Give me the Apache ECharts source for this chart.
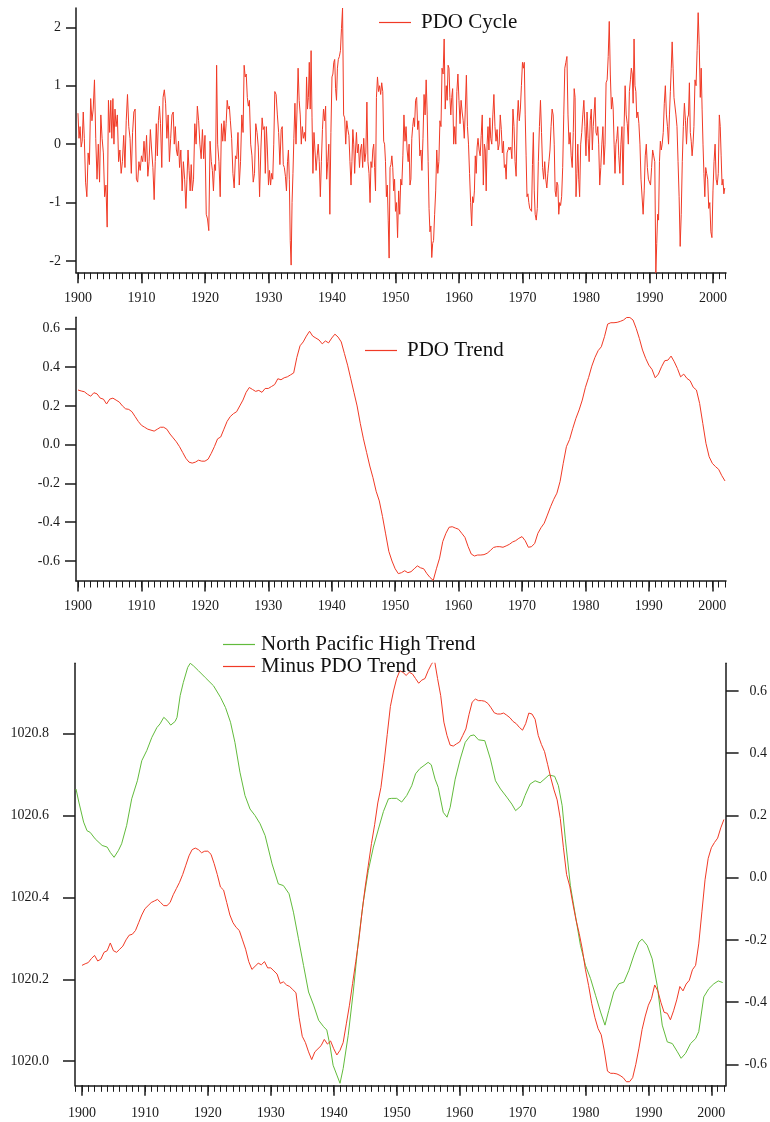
<!DOCTYPE html>
<html>
<head>
<meta charset="utf-8">
<title>PDO Cycle / Trend</title>
<script src="https://cdn.jsdelivr.net/npm/echarts@6/dist/echarts.min.js"></script>
<style>
  html, body { margin: 0; padding: 0; background: #fff; }
  #main { width: 770px; height: 1122px; }
</style>
</head>
<body>
<div id="main"></div>
<script>
  // PDO cycle: one row per year from 1900, values spread evenly inside the year
  const cycleStartYear = 1900;
  const pdoCycle = [
    [0.53, 0.1, 0.3, -0.05, 0.05, 0.55],            // 1900
    [0.1, -0.65, -0.9, -0.15, -0.35],
    [0.78, 0.4, 0.6, 1.1, 0.1],
    [-0.6, 0.0, -0.65, 0.5, 0.1],
    [-0.15, -0.9, -0.7, -1.42, 0.75],
    [0.2, 0.75, 0.1, 0.78, 0.0, 0.6],
    [0.3, 0.5, -0.3, -0.1, -0.5],
    [-0.3, 0.15, -0.4, 0.4, 0.85],
    [0.3, 0.1, -0.5, 0.2, 0.55],
    [0.6, -0.6, -0.65, -0.3, -0.45],
    [-0.2, -0.3, 0.05, -0.3, 0.15],                // 1910
    [-0.55, -0.3, 0.25, -0.1, -0.4],
    [-0.95, -0.3, 0.35, -0.2, 0.4, 0.65],
    [0.35, -0.4, 0.8, 0.93, 0.7],
    [0.1, 0.5, -0.3, 0.1, 0.5],
    [0.55, 0.0, 0.3, -0.1, -0.2, 0.05],
    [-0.4, -0.1, -0.8, -0.3, -0.6],
    [-1.1, -0.6, -0.1, -0.45, -0.8, -0.35],
    [-0.8, -0.6, 0.35, 0.0, 0.65],
    [0.4, 0.0, -0.25, 0.25, -0.25],
    [0.15, -1.2, -1.28, -1.48, 0.05],              // 1920
    [-0.3, -0.45, -0.8, -0.35, -0.45, 1.35],
    [0.0, -0.3, -0.9, 0.35, 0.05],
    [0.4, 0.05, 0.35, 0.75, 0.6, 0.65],
    [0.4, 0.1, -0.5, -0.75, -0.2],
    [-0.25, 0.2, -0.7, -0.3, 0.5],
    [0.2, 1.35, 1.15, 1.2, 0.8, 0.65],
    [0.75, 0.0, -0.2, -0.65, -0.5],
    [0.35, 0.2, -0.05, -0.9, -0.1],
    [0.45, 0.25, 0.3, -0.5, 0.3, -0.1],
    [-0.7, -0.45, -0.7, -0.5, -0.6, 0.0],          // 1930
    [0.9, 0.85, 0.5, 0.2, -0.35],
    [0.25, 0.3, -0.35, -0.4, -0.55, -0.8],
    [-0.3, -0.1, -0.6, -1.65, -2.07, -1.0, -0.5],
    [0.1, 0.7, 0.0, 0.6, 1.3, 0.75],
    [0.5, 0.0, 0.3, 0.1, 0.2, 0.05],
    [1.15, 0.6, 0.8, 1.4, 0.6, 1.6, 0.45],
    [-0.5, 0.2, 0.2, -0.45, -0.2, 0.0],
    [-0.3, -0.9, -0.3, 0.25, 0.6, 0.4],
    [0.65, -0.6, -0.3, 0.0, -1.2, 0.2],
    [1.15, 1.2, 1.4, 1.45, 0.95, 0.75, 1.3],       // 1940
    [1.45, 1.5, 1.6, 1.98, 2.33, 0.5],
    [0.45, 0.0, 0.4, 0.25, 0.15, -0.3],
    [-0.7, -0.3, 0.25, 0.0, -0.5, -0.1, 0.2],
    [-0.15, 0.0, -0.4, -0.1, 0.0, -0.4],
    [0.1, -0.3, -0.15, 0.72, -0.3, -0.5],
    [-1.0, -0.3, -0.4, -0.1, 0.0, -0.4, -0.8],
    [0.8, 1.15, 0.9, 1.0, 0.85, 1.05],
    [0.9, 0.05, 0.0, -0.3, -0.9, -0.7, -1.3],
    [-1.95, -0.4, -0.35, -0.2, -0.4, -0.8, -0.6],
    [-1.15, -1.0, -1.6, -0.8, -1.2, -0.6],         // 1950
    [-0.7, -0.2, 0.5, 0.05, 0.3, -0.1],
    [-0.3, 0.0, -0.7, -0.6, 0.1, 0.3, 0.45],
    [0.3, 0.75, 0.8, 0.25, 0.4, -0.2],
    [-0.1, -0.45, 0.1, 0.85, 0.5, 1.1],
    [0.5, -0.3, -1.1, -1.5, -1.4, -1.94, -1.7],
    [-1.65, -1.2, -0.8, -0.1, -0.5, -0.3],
    [0.4, 0.3, 1.3, 1.2, 1.8, 0.6],
    [1.0, 0.75, 1.35, 1.3, 0.8, 0.5, 0.8],
    [0.95, 0.0, 0.3, 0.0, 0.9, 1.2],
    [0.75, 0.35, 0.75, 0.55, 0.4, 0.1],            // 1960
    [0.6, 1.18, 0.3, 0.0, -0.5, -1.0],
    [-1.4, -0.9, -1.0, -0.8, -0.2, -0.5, -0.05],
    [0.1, -0.1, -0.2, 0.15, 0.5, -0.7],
    [0.0, -0.1, -0.8, 0.0, 0.3, -0.1, 0.45],
    [0.1, 0.0, 0.5, 0.85, 0.3, 0.05],
    [0.25, -0.1, 0.0, 0.5, 0.25, -0.15],
    [0.05, -0.4, -0.35, -0.6, -0.15, -0.1, -0.05],
    [-0.1, -0.05, -0.25, 0.6, 0.3, -0.3],
    [-0.55, 0.4, 0.75, 0.4, 0.6, 1.0],
    [1.4, 1.3, 1.4, 0.5, -0.2, -0.9, -0.85],       // 1970
    [-1.0, -1.1, -1.1, -1.15, -0.35, 0.2, -0.8],
    [-1.2, -1.3, -1.1, -0.3, 0.3, 0.75],
    [0.2, -0.4, -0.6, -0.3, -0.6, -0.75],
    [-0.5, -0.3, -0.1, 0.3, 0.6, 0.5],
    [0.0, -0.8, -0.9, -0.65, -0.7, -1.2, -1.0],
    [-1.05, -0.9, -0.4, 0.5, 1.3, 1.4],
    [1.5, 0.5, 0.0, 0.2, -0.2, -0.4],
    [0.2, 0.95, 0.8, -0.9, -0.5, 0.0, -0.6],
    [-0.9, 0.0, 0.2, 0.5, 0.75, 0.3],
    [-0.2, 0.55, 0.1, -0.3, 0.4, 0.6],             // 1980
    [-0.1, 0.3, 0.55, 0.8, 0.2, 0.15, 0.3],
    [0.0, -0.7, -0.4, 0.0, 0.3, -0.35],
    [0.0, 1.05, 1.1, 1.5, 2.1, 1.2],
    [0.6, 0.8, 0.6, 0.0, -0.5, 0.0, 0.1],
    [0.3, -0.2, -0.5, 0.0, 0.3, -0.7],
    [0.3, 1.0, 0.5, 0.35, 0.0, 0.9],
    [1.1, 1.3, 1.2, 0.7, 1.8, 1.0, 0.9],
    [0.45, 0.55, 0.35, 0.0, -0.6, -0.6],
    [-1.2, -0.8, -0.2, 0.0, -0.4, -0.6],
    [-0.6, -0.7, -0.4, -0.1, -0.2, -0.3],          // 1990
    [-2.2, -1.7, -1.2, -1.3, -0.3, 0.05, -0.1],
    [0.0, 0.2, 0.7, 1.0, 0.5, 0.3],
    [0.0, 0.5, 0.9, 1.3, 1.75, 1.3, 0.8],
    [0.8, 0.5, 0.3, -0.3, -0.9, -1.75],
    [-1.2, -0.3, 0.3, 0.7, 0.4, 0.0],
    [0.45, 0.5, 1.05, 0.2, 0.05, -0.2, 0.0],
    [0.3, 1.1, 1.0, 1.6, 2.25, 1.7],
    [0.8, 1.3, 0.6, 0.0, -0.5, -0.9, -0.4],
    [-0.5, -0.6, -1.1, -1.0, -1.5, -1.6],
    [-0.8, -0.3, 0.0, -0.6, -0.7, -0.5],           // 2000
    [0.5, 0.3, -0.2, -0.7, -0.6, -0.85, -0.75]
  ];

  // PDO trend, every half year from 1900.0 to 2002.0
  const trendStartYear = 1900;
  const trendStep = 0.5;
  const pdoTrend = [
    0.282, 0.277, 0.273, 0.26, 0.25, 0.268, 0.262, 0.24, 0.235, 0.21,        // 1900-1904.5
    0.235, 0.24, 0.23, 0.22, 0.2, 0.185, 0.182, 0.17, 0.145, 0.12,           // 1905-1909.5
    0.1, 0.09, 0.08, 0.075, 0.07, 0.08, 0.09, 0.09, 0.08, 0.055,             // 1910-1914.5
    0.035, 0.015, -0.01, -0.04, -0.07, -0.09, -0.095, -0.09, -0.08, -0.085,  // 1915-1919.5
    -0.085, -0.075, -0.045, -0.01, 0.03, 0.04, 0.08, 0.12, 0.145, 0.16,      // 1920-1924.5
    0.17, 0.2, 0.23, 0.27, 0.295, 0.285, 0.275, 0.28, 0.27, 0.29,            // 1925-1929.5
    0.29, 0.3, 0.31, 0.34, 0.335, 0.345, 0.35, 0.36, 0.37, 0.45,             // 1930-1934.5
    0.51, 0.53, 0.56, 0.585, 0.56, 0.55, 0.54, 0.52, 0.535, 0.525,           // 1935-1939.5
    0.55, 0.57, 0.555, 0.53, 0.47, 0.41, 0.34, 0.27, 0.2, 0.11,              // 1940-1944.5
    0.03, -0.04, -0.11, -0.17, -0.24, -0.29, -0.37, -0.46, -0.55, -0.6,      // 1945-1949.5
    -0.64, -0.665, -0.66, -0.65, -0.66, -0.655, -0.64, -0.625, -0.635, -0.64, // 1950-1954.5
    -0.665, -0.685, -0.7, -0.64, -0.585, -0.5, -0.457, -0.426, -0.423, -0.43, // 1955-1959.5
    -0.436, -0.457, -0.478, -0.525, -0.564, -0.574, -0.569, -0.569, -0.567, -0.56, // 1960-1964.5
    -0.546, -0.53, -0.526, -0.526, -0.529, -0.522, -0.514, -0.502, -0.495, -0.483, // 1965-1969.5
    -0.474, -0.495, -0.529, -0.526, -0.509, -0.457, -0.428, -0.405, -0.363, -0.32, // 1970-1974.5
    -0.282, -0.25, -0.19, -0.096, -0.01, 0.027, 0.084, 0.136, 0.179, 0.23,   // 1975-1979.5
    0.296, 0.347, 0.405, 0.45, 0.485, 0.505, 0.557, 0.622, 0.629, 0.629,     // 1980-1984.5
    0.631, 0.636, 0.643, 0.656, 0.656, 0.643, 0.6, 0.548, 0.488, 0.445,      // 1985-1989.5
    0.41, 0.388, 0.345, 0.364, 0.402, 0.433, 0.436, 0.457, 0.428, 0.393,     // 1990-1994.5
    0.35, 0.364, 0.342, 0.33, 0.296, 0.282, 0.213, 0.11, 0.007, -0.062,      // 1995-1999.5
    -0.096, -0.113, -0.127, -0.16, -0.187                                    // 2000-2002
  ];

  // North Pacific High trend (hPa)
  const nphYears = [
    1899.05, 1899.5, 1900.26, 1900.8, 1901.3, 1902.1, 1903.2, 1904.0, 1904.5, 1905.1,
    1905.8, 1906.3, 1907.1, 1907.9, 1908.8, 1909.5, 1910.3, 1911.1, 1911.9, 1912.4,
    1913.0, 1913.5, 1914.1, 1914.8, 1915.1, 1915.6, 1916.1, 1916.8, 1917.2, 1917.7,
    1918.5, 1919.6, 1920.9, 1922.0, 1922.8, 1923.6, 1924.3, 1925.1, 1925.9, 1926.7,
    1927.5, 1928.3, 1929.1, 1930.2, 1931.2, 1932.0, 1932.9, 1933.6, 1934.4, 1935.2,
    1936.0, 1936.8, 1937.6, 1938.4, 1938.9, 1939.4, 1939.9, 1940.5, 1941.0, 1941.5,
    1942.3, 1943.1, 1943.9, 1944.7, 1945.5, 1946.3, 1947.1, 1947.9, 1948.7, 1949.2,
    1950.0, 1950.8, 1951.6, 1952.4, 1953.0, 1953.7, 1954.5, 1955.0, 1955.5, 1956.1,
    1956.6, 1957.4, 1958.0, 1958.5, 1959.3, 1960.1, 1960.9, 1961.7, 1962.3, 1963.0,
    1964.0, 1964.9, 1965.7, 1966.5, 1967.5, 1968.3, 1968.9, 1969.8, 1970.4, 1971.2,
    1972.0, 1972.8, 1973.4, 1974.2, 1975.1, 1975.7, 1976.3, 1976.8, 1977.6, 1978.4,
    1979.2, 1980.0, 1980.8, 1981.6, 1982.4, 1983.1, 1983.7, 1984.5, 1985.3, 1986.1,
    1986.9, 1987.7, 1988.5, 1989.0, 1989.8, 1990.6, 1991.4, 1992.2, 1993.0, 1993.8,
    1994.6, 1995.2, 1995.9, 1996.7, 1997.5, 1998.0, 1998.8, 1999.6, 2000.4, 2001.1,
    2001.8
  ];
  const nphValues = [
    1020.665, 1020.633, 1020.584, 1020.563, 1020.559, 1020.543, 1020.527, 1020.523, 1020.51, 1020.498,
    1020.515, 1020.531, 1020.576, 1020.641, 1020.685, 1020.734, 1020.759, 1020.791, 1020.815, 1020.824,
    1020.84, 1020.833, 1020.821, 1020.83, 1020.84, 1020.893, 1020.925, 1020.962, 1020.972, 1020.966,
    1020.954, 1020.937, 1020.917, 1020.889, 1020.864, 1020.828, 1020.779, 1020.706, 1020.649, 1020.616,
    1020.6, 1020.58, 1020.551, 1020.482, 1020.433, 1020.429, 1020.409, 1020.364, 1020.299, 1020.234,
    1020.169, 1020.137, 1020.1, 1020.084, 1020.076, 1020.039, 1019.99, 1019.966, 1019.946, 1019.982,
    1020.063, 1020.169, 1020.291, 1020.389, 1020.466, 1020.523, 1020.567, 1020.61, 1020.641, 1020.642,
    1020.642, 1020.633, 1020.649, 1020.673, 1020.702, 1020.715, 1020.724, 1020.73, 1020.724, 1020.689,
    1020.669, 1020.608, 1020.596, 1020.62, 1020.689, 1020.738, 1020.779, 1020.795, 1020.797, 1020.785,
    1020.783, 1020.738, 1020.685, 1020.665, 1020.645, 1020.628, 1020.612, 1020.624, 1020.649, 1020.677,
    1020.685, 1020.68, 1020.688, 1020.699, 1020.696, 1020.673, 1020.624, 1020.543, 1020.429, 1020.356,
    1020.283, 1020.234, 1020.202, 1020.161, 1020.12, 1020.088, 1020.124, 1020.169, 1020.189, 1020.193,
    1020.222, 1020.259, 1020.291, 1020.298, 1020.283, 1020.25, 1020.185, 1020.088, 1020.047, 1020.043,
    1020.023, 1020.007, 1020.019, 1020.043, 1020.055, 1020.072, 1020.157, 1020.177, 1020.189, 1020.196,
    1020.192
  ];

  // tick marks and labels
  const decadeTicks = [1900, 1910, 1920, 1930, 1940, 1950, 1960, 1970, 1980, 1990, 2000];
  const cycleTicks = [-2, -1, 0, 1, 2];
  const trendTicks = [-0.6, -0.4, -0.2, 0, 0.2, 0.4, 0.6];
  const nphTicks = [1020.0, 1020.2, 1020.4, 1020.6, 1020.8];
  const minusTrendTicks = [-0.6, -0.4, -0.2, 0, 0.2, 0.4, 0.6];

  const RED = '#f03a26';
  const GREEN = '#62bb3c';
  const INK = '#1a1a1a';
  const FONT = 'Liberation Serif';

  /**
   * 每年一个刻度
   */
  function yearList(from, to) {
    let out = [];
    for (let y = from; y <= to; y++) out.push(y);
    return out;
  }

  /**
   * PDO cycle rows -> [year, value]
   */
  function cycleData() {
    let out = [];
    pdoCycle.forEach((row, k) => {
      row.forEach((v, i) => out.push([cycleStartYear + k + i / row.length, v]));
    });
    return out;
  }

  function trendData(sign) {
    // the lower panel plots the same trend with its sign flipped ("Minus PDO Trend")
    return pdoTrend.map((v, i) => [trendStartYear + i * trendStep, sign * v]);
  }

  function nphData() {
    return nphYears.map((y, i) => [y, nphValues[i]]);
  }

  /**
   * 两条x轴：一条画十年刻度和标签，另一条只画每年的小刻度
   */
  function xAxes(gridIndex, min, max, labelMargin, minorTicks) {
    return [
      {
        type: 'value', gridIndex: gridIndex, min: min, max: max, position: 'bottom',
        axisLine: { show: true, onZero: false, lineStyle: { color: INK, width: 1.5 } },
        axisTick: { show: true, customValues: decadeTicks, length: 10.5, lineStyle: { color: INK, width: 1.5 } },
        axisLabel: {
          show: true, customValues: decadeTicks, margin: labelMargin,
          fontFamily: FONT, fontSize: 14, color: INK,
          formatter: (v) => String(Math.round(v))
        },
        splitLine: { show: false }
      },
      {
        type: 'value', gridIndex: gridIndex, min: min, max: max, position: 'bottom',
        axisLine: { show: false, onZero: false },
        axisTick: { show: true, customValues: minorTicks, length: 6.5, lineStyle: { color: INK, width: 1 } },
        axisLabel: { show: false },
        splitLine: { show: false }
      }
    ];
  }

  function yAxis(gridIndex, min, max, ticks, opts) {
    return {
      type: 'value', gridIndex: gridIndex, min: min, max: max,
      position: opts.position || 'left',
      axisLine: { show: true, onZero: false, lineStyle: { color: INK, width: 1.5 } },
      axisTick: { show: true, customValues: ticks, length: opts.tickLen, lineStyle: { color: INK, width: 1.5 } },
      axisLabel: {
        show: true, customValues: ticks, margin: opts.margin, align: 'right',
        fontFamily: FONT, fontSize: 14, color: INK,
        formatter: (v) => v.toFixed(opts.digits)
      },
      splitLine: { show: false }
    };
  }

  function lineSeries(name, xi, yi, data, color) {
    return {
      name: name, type: 'line', xAxisIndex: xi, yAxisIndex: yi,
      data: data, symbol: 'none', showSymbol: false, clip: true,
      lineStyle: { color: color, width: 1 },
      itemStyle: { color: color }
    };
  }

  // 图例只画一条细线
  function legend(names, left, top, textGap) {
    return {
      data: names, left: left, top: top, orient: 'vertical',
      icon: 'rect', itemWidth: 32, itemHeight: 1.2, itemGap: 1, padding: 0,
      textStyle: { fontFamily: FONT, fontSize: 21, color: '#111', padding: [0, 0, 0, textGap] }
    };
  }

  var chart = echarts.init(document.getElementById('main'), null, { renderer: 'canvas' });

  var option = {
    animation: false,
    backgroundColor: '#fff',
    grid: [
      { left: 76, top: 8, width: 650, height: 264.7 },
      { left: 76, top: 317.3, width: 650, height: 263.7 },
      { left: 75, top: 663.3, width: 651.7, height: 422 }
    ],
    xAxis: []
      .concat(xAxes(0, 1899.69, 2002.05, 19, yearList(1900, 2002)))
      .concat(xAxes(1, 1899.68, 2002.16, 18, yearList(1900, 2002)))
      .concat(xAxes(2, 1898.89, 2002.33, 21, yearList(1899, 2002))),
    yAxis: [
      yAxis(0, -2.2, 2.33, cycleTicks, { tickLen: 10, margin: 15, digits: 0 }),
      yAxis(1, -0.703, 0.657, trendTicks, { tickLen: 11, margin: 16, digits: 1 }),
      yAxis(2, 1019.941, 1020.972, nphTicks, { tickLen: 12, margin: 26, digits: 1 }),
      yAxis(2, -0.6675, 0.689, minusTrendTicks, { tickLen: 12.6, margin: 41, digits: 1, position: 'right' })
    ],
    legend: [
      legend(['PDO Cycle'], 379, 12, 5),
      legend(['PDO Trend'], 365, 340, 5),
      legend(['North Pacific High Trend', 'Minus PDO Trend'], 223, 634, 1)
    ],
    series: [
      lineSeries('PDO Cycle', 0, 0, cycleData(), RED),
      lineSeries('PDO Trend', 2, 1, trendData(1), RED),
      lineSeries('North Pacific High Trend', 4, 2, nphData(), GREEN),
      lineSeries('Minus PDO Trend', 4, 3, trendData(-1), RED)
    ]
  };

  chart.setOption(option);
</script>
</body>
</html>
